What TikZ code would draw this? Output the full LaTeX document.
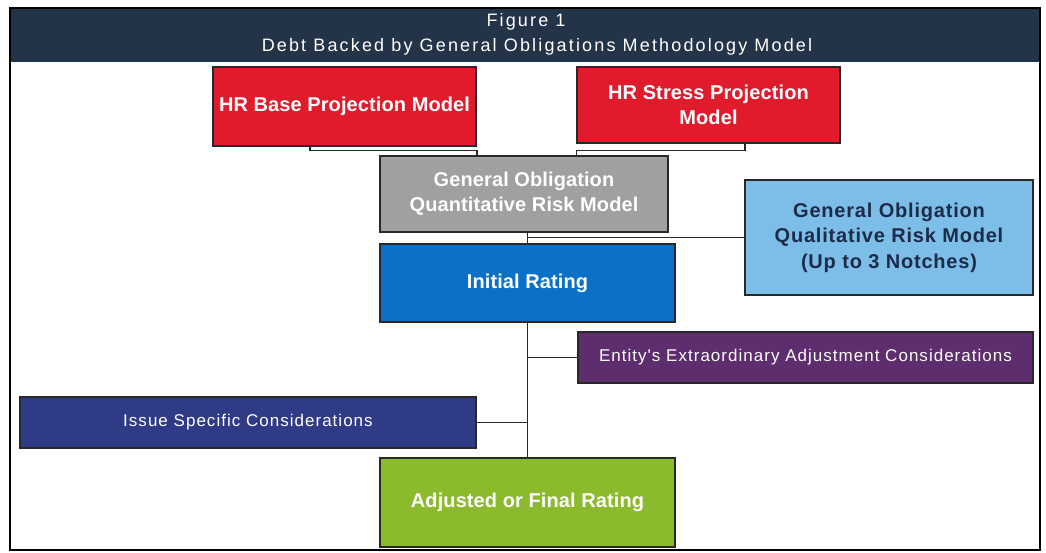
\documentclass[tikz,border=0pt]{standalone}
\usepackage{fontspec}
\setmainfont{Liberation Sans}
\newfontfamily\titlef{Liberation Sans}[LetterSpace=12]
\newfontfamily\boxf{Liberation Sans}[LetterSpace=0.5]
\newfontfamily\qualf{Liberation Sans}[LetterSpace=4]
\newfontfamily\thinf{Liberation Sans}[LetterSpace=6]
\usetikzlibrary{calc}
\definecolor{titlebar}{RGB}{36,52,72}
\definecolor{hrred}{RGB}{225,27,44}
\definecolor{qgray}{RGB}{161,159,159}
\definecolor{iblue}{RGB}{11,113,199}
\definecolor{lblue}{RGB}{125,190,232}
\definecolor{epurple}{RGB}{94,45,110}
\definecolor{inavy}{RGB}{47,59,135}
\definecolor{fgreen}{RGB}{140,186,45}
\definecolor{qtext}{RGB}{28,43,72}
\definecolor{edge}{RGB}{40,40,40}
\tikzset{
  box/.style={draw=edge, line width=1.6pt, inner sep=2pt, align=center, text=white,
    font=\boxf\bfseries\fontsize{20}{25}\selectfont},
  qualbox/.style={box, text=qtext, font=\qualf\bfseries\fontsize{20}{25.5}\selectfont},
  thinbox/.style={box, font=\thinf\fontsize{17}{22}\selectfont},
  conn/.style={draw=edge, line width=1.4pt},
  titletext/.style={text=white, font=\titlef\fontsize{18}{22}\selectfont},
}
\begin{document}
\begin{tikzpicture}[x=1pt,y=-1pt]
\useasboundingbox (0,0) rectangle (1046,552);
\fill[white] (0,0) rectangle (1046,552);
% frame and title bar
\fill[titlebar] (10,8) rectangle (1040,62);
\draw[black, line width=1.4pt] (10,8) rectangle (1040,550);
\node[titletext] (fig) at (526,22) {Figure 1};
\node[titletext] (ttl) at (537,47) {Debt Backed by General Obligations Methodology Model};
% boxes
\node[box, fill=hrred, minimum width=263, minimum height=79] (base) at (344.5,106.5) {HR Base Projection Model};
\node[box, fill=hrred, minimum width=263, minimum height=76] (stress) at (708.5,105) {HR Stress Projection\\Model};
\node[box, fill=qgray, minimum width=288, minimum height=76] (gray) at (524,194) {General Obligation\\Quantitative Risk Model};
\node[box, fill=iblue, minimum width=295, minimum height=78] (init) at (527.5,283) {Initial Rating};
\node[qualbox, fill=lblue, minimum width=288, minimum height=115] (qual) at (889,237.5) {General Obligation\\Qualitative Risk Model\\(Up to 3 Notches)};
\node[thinbox, fill=epurple, minimum width=455, minimum height=51] (extra) at (805.5,357.5) {Entity's Extraordinary Adjustment Considerations};
\node[thinbox, fill=inavy, minimum width=456, minimum height=51] (issue) at (248,422.5) {Issue Specific Considerations};
\node[box, fill=fgreen, minimum width=295, minimum height=89] (final) at (527.5,502.5) {Adjusted or Final Rating};
% connectors
\draw[conn] ([xshift=-34.5pt]base.south) |- ($(gray.north -| base.east)+(0,-5)$) -- (gray.north -| base.east);
\draw[conn] ([xshift=36.5pt]stress.south) |- ($(gray.north -| stress.west)+(0,-5)$) -- (gray.north -| stress.west);
\draw[conn] (init.north |- gray.south) -- (init.north);
\draw[conn] (init.north |- qual.west) -- (qual.west);
\draw[conn] (init.south) -- (final.north);
\draw[conn] (init.south |- extra.west) -- (extra.west);
\draw[conn] (issue.east) -- (init.south |- issue.east);
\end{tikzpicture}
\end{document}
